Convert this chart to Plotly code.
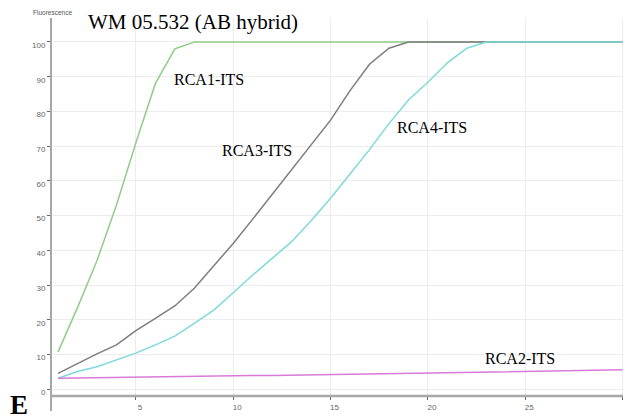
import plotly.graph_objects as go

cycles = list(range(1, 31))
rca1 = [10.7, 23.5, 37.0, 53.0, 71.0, 88.0, 98.0, 100, 100, 100,
        100, 100, 100, 100, 100, 100, 100, 100, 100, 100,
        100, 100, 100, 100, 100, 100, 100, 100, 100, 100]
rca3 = [4.6, 7.5, 10.2, 12.8, 16.9, 20.4, 24.0, 29.1, 35.5, 42.0,
        49.0, 56.1, 63.2, 70.3, 77.5, 86.0, 93.6, 98.2, 100, 100,
        100, 100, 100, 100, 100, 100, 100, 100, 100, 100]
rca4 = [3.2, 5.1, 6.5, 8.4, 10.4, 12.8, 15.3, 19.0, 22.8, 27.8,
        32.9, 37.7, 42.5, 48.5, 55.0, 62.0, 69.0, 76.5, 83.3, 88.4,
        94.0, 98.2, 100, 100, 100, 100, 100, 100, 100, 100]
rca2 = [3.2, 3.3, 3.3, 3.4, 3.5, 3.6, 3.6, 3.7, 3.8, 3.9,
        4.0, 4.0, 4.1, 4.2, 4.3, 4.3, 4.4, 4.5, 4.6, 4.7,
        4.8, 4.8, 4.9, 5.0, 5.1, 5.2, 5.3, 5.4, 5.5, 5.6]

y_ticks = list(range(0, 101, 10))
x_tickvals = [5, 10, 15, 20, 25, 30]
x_ticktext = ["5", "10", "15", "20", "25", "Cycle"]

# page has an 8px body margin, so the figure is made 8px smaller and shifted
OFF = 8
W, H = 631 - OFF, 419 - OFF
PLOT_L, PLOT_R, PLOT_T, PLOT_B = 51, 628, 18, 396   # in reference pixels
ML, MR = PLOT_L - OFF, 631 - PLOT_R
MT, MB = PLOT_T - OFF, 419 - PLOT_B
PW, PH = PLOT_R - PLOT_L, PLOT_B - PLOT_T


def px(x):
    return (x - PLOT_L) / PW


def py(y):
    return (PLOT_B - y) / PH


fig = go.Figure()
series = [
    ("RCA1-ITS", rca1, "#8fcd86"),
    ("RCA3-ITS", rca3, "#7d7d7d"),
    ("RCA4-ITS", rca4, "#7fd9dc"),
    ("RCA2-ITS", rca2, "#d97ad9"),
]
for name, vals, col in series:
    fig.add_trace(go.Scatter(x=cycles, y=vals, mode="lines", name=name,
                             line=dict(color=col, width=1.5)))

serif = "Liberation Serif"
ann = [
    ("WM 05.532 (AB hybrid)", 86, 8, 21, "left", "top", "#000"),
    ("RCA1-ITS", 172, 79, 16, "left", "middle", "#000"),
    ("RCA3-ITS", 220, 150, 16, "left", "middle", "#000"),
    ("RCA4-ITS", 395, 127, 16, "left", "middle", "#000"),
    ("RCA2-ITS", 483, 358, 16, "left", "middle", "#000"),
]
for text, x, y, size, anchor, yanch, col in ann:
    fig.add_annotation(text=text, x=px(x), y=py(y), xref="paper", yref="paper",
                       xanchor=anchor, yanchor=yanch, showarrow=False,
                       font=dict(family=serif, size=size, color=col))
fig.add_annotation(text="<b>E</b>", x=px(19), y=py(405), xref="paper", yref="paper",
                   xanchor="center", yanchor="middle", showarrow=False,
                   font=dict(family=serif, size=27, color="#000"))
fig.add_annotation(text="Fluorescence", x=px(31), y=py(12.5), xref="paper", yref="paper",
                   xanchor="left", yanchor="middle", showarrow=False,
                   font=dict(family="Liberation Sans", size=6.5, color="#555"))

# axis lines
fig.add_shape(type="line", xref="paper", yref="paper", x0=0, x1=0, y0=py(411), y1=1,
              line=dict(color="#8a8a8a", width=1.5))
fig.add_shape(type="line", xref="paper", yref="paper", x0=0, x1=1, y0=0, y1=0,
              line=dict(color="#a8a8a8", width=2.5))

fig.update_layout(
    width=W, height=H,
    margin=dict(l=ML, r=MR, t=MT, b=MB),
    paper_bgcolor="white", plot_bgcolor="white",
    showlegend=False,
    xaxis=dict(range=[0.64, 30.28], tickvals=x_tickvals, ticktext=x_ticktext,
               showgrid=True, gridcolor="#ececec", gridwidth=1,
               zeroline=False, showline=False,
               ticks="outside", ticklen=3, tickcolor="#666",
               ticklabelshift=4, ticklabelstandoff=0,
               tickfont=dict(family="Liberation Sans", size=8, color="#666")),
    yaxis=dict(range=[-1.93, 106.9], tickvals=y_ticks,
               showgrid=True, gridcolor="#ececec", gridwidth=1,
               zeroline=False, showline=False,
               ticks="outside", ticklen=3, tickcolor="#666",
               ticklabelshift=3, ticklabelstandoff=0,
               tickfont=dict(family="Liberation Sans", size=8, color="#666")),
)

fig.write_html("out.html")
